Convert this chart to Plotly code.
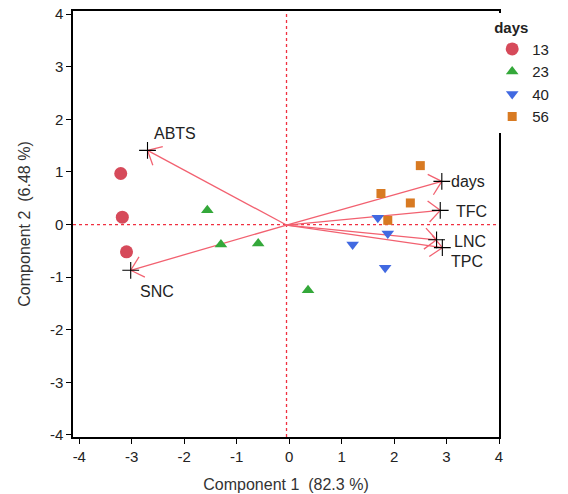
import numpy as np
import plotly.graph_objects as go

# Scores by group (days)
groups = ["13", "23", "40", "56"]
pc1_13 = [-3.21, -3.18, -3.10]
pc2_13 = [0.97, 0.14, -0.52]
pc1_23 = [-1.56, -1.30, -0.59, 0.36]
pc2_23 = [0.27, -0.38, -0.36, -1.25]
pc1_40 = [1.69, 1.88, 1.21, 1.83]
pc2_40 = [0.13, -0.17, -0.38, -0.82]
pc1_56 = [2.50, 1.75, 2.31, 1.88]
pc2_56 = [1.12, 0.59, 0.41, 0.08]

# Loadings (biplot vectors)
load_names = ["ABTS", "days", "TFC", "LNC", "TPC", "SNC"]
load_pc1 = [-2.70, 2.91, 2.88, 2.81, 2.92, -3.02]
load_pc2 = [1.41, 0.82, 0.27, -0.29, -0.44, -0.87]
origin = (-0.05, -0.01)

x_ticks = [-4, -3, -2, -1, 0, 1, 2, 3, 4]
y_ticks = [-4, -3, -2, -1, 0, 1, 2, 3, 4]

FONT = "Arial, Liberation Sans, sans-serif"
colors = {"13": "#d64a5a", "23": "#34a83a", "40": "#4169e1", "56": "#d87a22"}
symbols = {"13": "circle", "23": "triangle-up", "40": "triangle-down", "56": "square"}
sizes = {"13": 13, "23": 11, "40": 11, "56": 9}
data = {"13": (pc1_13, pc2_13), "23": (pc1_23, pc2_23), "40": (pc1_40, pc2_40), "56": (pc1_56, pc2_56)}

fig = go.Figure()

# arrows
arrow_color = "#f26170"
sx, sy, hx, hy = [], [], [], []
head_len = 0.30
ang = np.deg2rad(42)
for x, y in zip(load_pc1, load_pc2):
    sx += [origin[0], x, None]
    sy += [origin[1], y, None]
    d = np.array([origin[0] - x, origin[1] - y])
    d = d / np.linalg.norm(d)
    for a in (ang, -ang):
        r = np.array([d[0] * np.cos(a) - d[1] * np.sin(a), d[0] * np.sin(a) + d[1] * np.cos(a)])
        hx += [x, x + head_len * r[0], None]
        hy += [y, y + head_len * r[1], None]
fig.add_trace(go.Scatter(x=sx + hx, y=sy + hy, mode="lines", line=dict(color=arrow_color, width=1.3),
                         showlegend=False, hoverinfo="skip"))
fig.add_trace(go.Scatter(x=load_pc1, y=load_pc2, mode="markers",
                         marker=dict(symbol="cross-thin", size=12, line=dict(color="black", width=1.1)),
                         showlegend=False, hoverinfo="skip"))

# labels (offsets in data units)
offsets = {"ABTS": (0.08, 0.33), "days": (0.14, 0.0), "TFC": (0.26, -0.02),
           "LNC": (0.30, -0.03), "TPC": (0.13, -0.27), "SNC": (0.13, -0.40)}
for n, x, y in zip(load_names, load_pc1, load_pc2):
    dx, dy = offsets[n]
    fig.add_annotation(x=x + dx, y=y + dy, text=n, showarrow=False, xanchor="left",
                       font=dict(size=16, color="#222", family=FONT))

for g in groups:
    xs, ys = data[g]
    fig.add_trace(go.Scatter(x=xs, y=ys, mode="markers", name=g,
                             marker=dict(symbol=symbols[g], size=sizes[g], color=colors[g], line=dict(width=0))))

fig.add_shape(type="line", x0=origin[0], x1=origin[0], y0=-4.04, y1=4.06, line=dict(color="#f03040", width=1.3, dash="dot"), layer="below")
fig.add_shape(type="line", x0=-4.12, x1=4.0, y0=0, y1=0, line=dict(color="#f03040", width=1.3, dash="dot"), layer="below")

axis_common = dict(showgrid=False, zeroline=False, showline=True, linecolor="black", linewidth=1.5, mirror=True,
                   ticks="outside", ticklen=5, tickcolor="black", automargin=False, ticklabeloverflow="allow",
                   tickfont=dict(size=15, color="#222", family=FONT))
fig.update_xaxes(range=[-4.12, 4.0], tickvals=x_ticks, ticktext=[str(v) for v in x_ticks],
                 title=dict(text="Component 1  (82.3 %)", font=dict(size=16, color="#333", family=FONT)),
                 **axis_common)
fig.update_yaxes(range=[-4.04, 4.06], tickvals=y_ticks, ticktext=[str(v) for v in y_ticks],
                 title=dict(text="Component 2  (6.48 %)", font=dict(size=16, color="#333", family=FONT)),
                 **axis_common)

fig.update_layout(
    width=568, height=494,
    margin=dict(l=73, r=69, t=11, b=57, autoexpand=False),
    plot_bgcolor="white", paper_bgcolor="white",
    font=dict(family=FONT, color="#222"),
    legend=dict(x=0.984, y=0.995, xanchor="left", yanchor="top",
                title=dict(text="<b>days</b>", font=dict(size=15, color="#222")),
                font=dict(size=15, color="#222"), tracegroupgap=0, itemwidth=30),
)

fig.write_html("out.html", post_script="document.body.style.margin='0';",
               config={"displayModeBar": False})
